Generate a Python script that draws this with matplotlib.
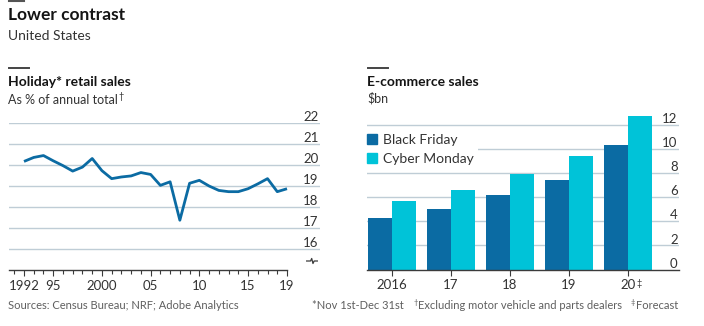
import numpy as np
import matplotlib
matplotlib.use("Agg")
import matplotlib.pyplot as plt
from matplotlib.patches import Patch

# Holiday retail sales, % of annual total
years = list(range(1992, 2020))
holiday_share = [20.17, 20.36, 20.45, 20.2, 19.97, 19.71, 19.9, 20.31, 19.73, 19.35,
                 19.43, 19.48, 19.64, 19.55, 19.03, 19.2, 17.37, 19.13, 19.27, 19.0,
                 18.79, 18.73, 18.73, 18.87, 19.1, 19.35, 18.73, 18.87]
year_ticks = [1992, 1995, 2000, 2005, 2010, 2015, 2019]
year_labels = ["1992", "95", "2000", "05", "10", "15", "19"]
share_ticks = [16, 17, 18, 19, 20, 21, 22]

# E-commerce sales, $bn
sale_years = ["2016", "17", "18", "19", "20"]
black_friday = [4.3, 5.0, 6.2, 7.4, 10.3]
cyber_monday = [5.7, 6.6, 7.9, 9.4, 12.7]
sales_ticks = [0, 2, 4, 6, 8, 10, 12]

W, H = 704, 326
BLUE = "#0b6ba3"
CYAN = "#00c3d8"
GRID = "#bfcdd6"
AXIS = "#3b3b3b"
INK = "#141414"
TEXT = "#333333"
NOTE = "#5f5f5f"

plt.rcParams["font.family"] = ["Lato", "DejaVu Sans"]

fig = plt.figure(figsize=(W / 100, H / 100), dpi=100)
fig.patch.set_facecolor("white")


def box(x0, y0, x1, y1):
    """Pixel box with a top-left origin -> figure rectangle."""
    return [x0 / W, 1 - y1 / H, (x1 - x0) / W, (y1 - y0) / H]


def ftext(x, y, s, **kw):
    return fig.text(x / W, 1 - y / H, s, **kw)


renderer = fig.canvas.get_renderer()


def chain(pieces, x, y, align="left", color=TEXT):
    """Lay out text runs side by side; each run is (text, size, raise_px, gap_px)."""
    order = pieces if align == "left" else list(reversed(pieces))
    for s, size, rise, gap in order:
        if align == "left":
            x += gap
            t = ftext(x, y - rise, s, ha="left", va="baseline", fontsize=size, color=color)
            x = t.get_window_extent(renderer).x1
        else:
            t = ftext(x, y - rise, s, ha="right", va="baseline", fontsize=size, color=color)
            x = t.get_window_extent(renderer).x0 - gap


# ---- headings ----
fig.add_artist(plt.Line2D([9 / W, 24 / W], [1 - 0.8 / H] * 2, color="#555555", lw=1.5))
ftext(8, 19.5, "Lower contrast", fontsize=12.5, fontweight="bold", color=INK)
ftext(8, 40, "United States", fontsize=10, color=TEXT)

for x0 in (9, 368):
    fig.add_artist(plt.Line2D([x0 / W, (x0 + 20) / W], [1 - 68 / H] * 2, color="#444444", lw=1.4))

ftext(8, 86.5, "Holiday* retail sales", fontsize=10, fontweight="bold", color=INK)
chain([("As % of annual total", 9, 0, 0), ("\u2020", 6.5, 4.5, 0.3)], 8, 103.5)

ftext(367, 86.5, "E-commerce sales", fontsize=10, fontweight="bold", color=INK)
ftext(367, 103, "$bn", fontsize=9, color=TEXT)

# ---- left panel: holiday share line ----
k = 263 / 27  # pixels per year
ax1 = fig.add_axes(box(9, 123, 320, 270))
ax1.set_xlim(1992 - 15 / k, 1992 + 296 / k)
ax1.set_ylim(15, 22)
ax1.set_facecolor("none")
for v in share_ticks:
    ax1.axhline(v, color=GRID, lw=1.0, zorder=1)
    ax1.annotate(str(v), xy=(1, v), xycoords=("axes fraction", "data"), xytext=(-1, 1.3),
                 textcoords="offset points", ha="right", va="baseline", fontsize=9.5, color=TEXT)
ax1.plot(years, holiday_share, color=BLUE, lw=2.0, zorder=3, clip_on=False,
         solid_joinstyle="round", solid_capstyle="butt")

for side in ("top", "right", "left"):
    ax1.spines[side].set_visible(False)
ax1.spines["bottom"].set_bounds(ax1.get_xlim()[0], years[-1])
ax1.spines["bottom"].set_color(AXIS)
ax1.spines["bottom"].set_linewidth(1.0)
ax1.set_yticks([])
ax1.set_xticks(year_ticks, year_labels)
ax1.set_xticks(range(1991, 2020), minor=True)
ax1.tick_params(axis="x", which="major", length=4.5, width=0.8, color=AXIS,
                labelsize=9.5, labelcolor=TEXT, pad=2.5)
ax1.tick_params(axis="x", which="minor", length=3, width=0.8, color=AXIS)

# axis-break mark below the lowest gridline
bx = 1992 + (312 - 24) / k
by = 15 + 9 / 21
ax1.plot([bx - 0.55, bx - 0.15, bx - 0.03, bx + 0.1, bx + 0.22, bx + 0.55],
         [by, by, by + 0.12, by - 0.12, by, by], color=AXIS, lw=0.9, clip_on=False)

# ---- right panel: e-commerce bars ----
ax2 = fig.add_axes(box(367, 114.5, 679, 269.5))
x = np.arange(len(sale_years))
w = 0.407
ax2.set_xlim(-0.42, 4.865)
ax2.set_ylim(0, 155 / 12.08)
ax2.set_facecolor("none")
for v in sales_ticks:
    if v:
        ax2.axhline(v, color=GRID, lw=1.0, zorder=1)
    ax2.annotate(str(v), xy=(1, v), xycoords=("axes fraction", "data"), xytext=(-1, 1.3),
                 textcoords="offset points", ha="right", va="baseline", fontsize=9.5, color=TEXT)
ax2.bar(x - w / 2, black_friday, w, color=BLUE, zorder=3, label="Black Friday")
ax2.bar(x + w / 2, cyber_monday, w, color=CYAN, zorder=3, label="Cyber Monday")

for side in ("top", "right", "left"):
    ax2.spines[side].set_visible(False)
ax2.spines["bottom"].set_color(AXIS)
ax2.spines["bottom"].set_linewidth(1.0)
ax2.spines["bottom"].set_zorder(4)
ax2.set_yticks([])
ax2.set_xticks(x, sale_years)
ax2.tick_params(axis="x", length=4, width=0.8, color=AXIS, labelsize=9.5,
                labelcolor=TEXT, pad=2.5)

leg = ax2.legend(handles=[Patch(color=BLUE, label="Black Friday"),
                          Patch(color=CYAN, label="Cyber Monday")],
                 loc="center left", bbox_to_anchor=(-0.012, 0.775), frameon=True,
                 fancybox=False, edgecolor="none", facecolor="white", framealpha=1,
                 fontsize=10, handlelength=0.68, handleheight=0.68, handletextpad=0.45,
                 labelspacing=0.5, borderpad=0.3, borderaxespad=0)
for t in leg.get_texts():
    t.set_color(TEXT)
leg.set_zorder(5)

# forecast mark on the last year label
fig.canvas.draw()
lab = ax2.get_xticklabels()[-1]
bb = lab.get_window_extent(renderer)
ftext(bb.x1 + 0.5, H - bb.y1 + 7, "\u2021", fontsize=6.5, color=TEXT, va="baseline")

# ---- footnotes ----
ftext(8, 309, "Sources: Census Bureau; NRF; Adobe Analytics", fontsize=8, color=NOTE)
chain([("*Nov 1st-Dec 31st", 8, 0, 0),
       ("\u2020", 5.5, 4, 10), ("Excluding motor vehicle and parts dealers", 8, 0, 0.3),
       ("\u2021", 5.5, 4, 9), ("Forecast", 8, 0, 0.3)],
      678, 309, align="right", color=NOTE)

fig.savefig("out.png", dpi=100, facecolor="white")
